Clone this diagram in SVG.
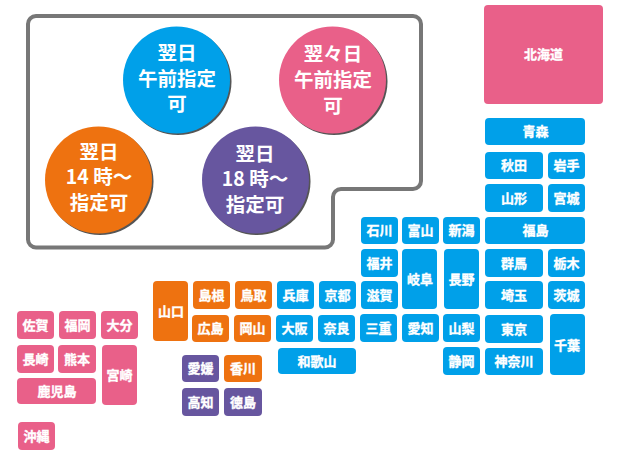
<svg xmlns="http://www.w3.org/2000/svg" width="620" height="455" viewBox="0 0 620 455">
<style>
.t{font-family:"Noto Sans CJK JP","Noto Sans",sans-serif;font-weight:700;fill:#fff;text-anchor:middle}
.s{font-size:13px;stroke:#fff;stroke-width:.35px}
.c{font-size:19.500px}
.b{fill:#00a0e9}.p{fill:#e96089}.o{fill:#ee7210}.v{fill:#67569f}
.sh{fill:#555}
</style>
<rect width="620" height="455" fill="#fff"/>
<path id="legend-frame" d="M36 16H413a8 8 0 0 1 8 8V181a8 8 0 0 1-8 8H341a8 8 0 0 0-8 8V239.500a8 8 0 0 1-8 8H36a8 8 0 0 1-8-8V24a8 8 0 0 1 8-8Z" fill="#fff" stroke="#777" stroke-width="4"/>
<g id="legend-blue"><circle class="sh" cx="178" cy="81.500" r="53.500"/><circle class="b" cx="176.500" cy="80" r="53.500"/><text class="t c"><tspan x="177" y="60">翌日</tspan><tspan x="177" y="86">午前指定</tspan><tspan x="177" y="111">可</tspan></text></g>
<g id="legend-pink"><circle class="sh" cx="334" cy="81.500" r="53.500"/><circle class="p" cx="332.500" cy="80" r="53.500"/><text class="t c"><tspan x="333" y="61">翌々日</tspan><tspan x="333" y="87">午前指定</tspan><tspan x="333" y="113">可</tspan></text></g>
<g id="legend-orange"><circle class="sh" cx="100" cy="181.500" r="53.500"/><circle class="o" cx="98.500" cy="180" r="53.500"/><text class="t c"><tspan x="99" y="159">翌日</tspan><tspan x="99" y="184">14 時～</tspan><tspan x="99" y="210">指定可</tspan></text></g>
<g id="legend-purple"><circle class="sh" cx="257" cy="181.500" r="53.500"/><circle class="v" cx="255.500" cy="180" r="53.500"/><text class="t c"><tspan x="255" y="161">翌日</tspan><tspan x="255" y="186">18 時～</tspan><tspan x="255" y="212">指定可</tspan></text></g>
<g id="hokkaido"><rect class="p" x="484" y="5" width="119" height="99" rx="4"/><text class="t s" x="543.500" y="59">北海道</text></g>
<g id="aomori"><rect class="b" x="485" y="118" width="100" height="27" rx="4"/><text class="t s" x="535.500" y="136">青森</text></g>
<g id="akita"><rect class="b" x="485" y="152" width="58" height="27" rx="4"/><text class="t s" x="514" y="170">秋田</text></g>
<g id="iwate"><rect class="b" x="548" y="152" width="37" height="27" rx="4"/><text class="t s" x="566.500" y="170">岩手</text></g>
<g id="yamagata"><rect class="b" x="485" y="184" width="58" height="28" rx="4"/><text class="t s" x="514" y="203">山形</text></g>
<g id="miyagi"><rect class="b" x="548" y="184" width="37" height="28" rx="4"/><text class="t s" x="566.500" y="203">宮城</text></g>
<g id="ishikawa"><rect class="b" x="361" y="217" width="37" height="27" rx="4"/><text class="t s" x="379.500" y="235">石川</text></g>
<g id="toyama"><rect class="b" x="402" y="217" width="37" height="27" rx="4"/><text class="t s" x="420.500" y="235">富山</text></g>
<g id="niigata"><rect class="b" x="443" y="217" width="37" height="27" rx="4"/><text class="t s" x="461.500" y="235">新潟</text></g>
<g id="fukushima"><rect class="b" x="485" y="217" width="100" height="27" rx="4"/><text class="t s" x="535.500" y="235">福島</text></g>
<g id="fukui"><rect class="b" x="361" y="249" width="37" height="28" rx="4"/><text class="t s" x="379.500" y="268">福井</text></g>
<g id="gifu"><rect class="b" x="402" y="249" width="35" height="60" rx="4"/><text class="t s" x="420" y="284">岐阜</text></g>
<g id="nagano"><rect class="b" x="444" y="249" width="35" height="60" rx="4"/><text class="t s" x="461.500" y="284">長野</text></g>
<g id="gunma"><rect class="b" x="485" y="249" width="58" height="28" rx="4"/><text class="t s" x="514" y="268">群馬</text></g>
<g id="tochigi"><rect class="b" x="548" y="249" width="37" height="28" rx="4"/><text class="t s" x="566.500" y="268">栃木</text></g>
<g id="shiga"><rect class="b" x="361" y="281" width="37" height="28" rx="4"/><text class="t s" x="379.500" y="300">滋賀</text></g>
<g id="saitama"><rect class="b" x="485" y="281" width="58" height="28" rx="4"/><text class="t s" x="514" y="300">埼玉</text></g>
<g id="ibaraki"><rect class="b" x="548" y="281" width="37" height="28" rx="4"/><text class="t s" x="566.500" y="300">茨城</text></g>
<g id="mie"><rect class="b" x="360" y="314" width="37" height="28" rx="4"/><text class="t s" x="378.500" y="333">三重</text></g>
<g id="aichi"><rect class="b" x="402" y="314" width="37" height="28" rx="4"/><text class="t s" x="420.500" y="333">愛知</text></g>
<g id="yamanashi"><rect class="b" x="443" y="314" width="37" height="28" rx="4"/><text class="t s" x="461.500" y="333">山梨</text></g>
<g id="tokyo"><rect class="b" x="485" y="315" width="58" height="28" rx="4"/><text class="t s" x="514" y="334">東京</text></g>
<g id="chiba"><rect class="b" x="550" y="314" width="35" height="61" rx="4"/><text class="t s" x="567" y="350">千葉</text></g>
<g id="shizuoka"><rect class="b" x="443" y="347" width="37" height="28" rx="4"/><text class="t s" x="461.500" y="366">静岡</text></g>
<g id="kanagawa"><rect class="b" x="485" y="348" width="58" height="27" rx="4"/><text class="t s" x="514" y="366">神奈川</text></g>
<g id="yamaguchi"><rect class="o" x="153" y="281" width="35" height="60" rx="4"/><text class="t s" x="171" y="316">山口</text></g>
<g id="shimane"><rect class="o" x="193" y="281" width="37" height="28" rx="4"/><text class="t s" x="211.500" y="300">島根</text></g>
<g id="tottori"><rect class="o" x="235" y="281" width="37" height="28" rx="4"/><text class="t s" x="253.500" y="300">鳥取</text></g>
<g id="hiroshima"><rect class="o" x="192" y="315" width="37" height="27" rx="4"/><text class="t s" x="210.500" y="333">広島</text></g>
<g id="okayama"><rect class="o" x="234" y="315" width="37" height="27" rx="4"/><text class="t s" x="252.500" y="333">岡山</text></g>
<g id="hyogo"><rect class="b" x="277" y="281" width="37" height="28" rx="4"/><text class="t s" x="295.500" y="300">兵庫</text></g>
<g id="kyoto"><rect class="b" x="319" y="281" width="37" height="28" rx="4"/><text class="t s" x="337.500" y="300">京都</text></g>
<g id="osaka"><rect class="b" x="276" y="315" width="37" height="27" rx="4"/><text class="t s" x="294.500" y="333">大阪</text></g>
<g id="nara"><rect class="b" x="318" y="315" width="37" height="27" rx="4"/><text class="t s" x="336.500" y="333">奈良</text></g>
<g id="wakayama"><rect class="b" x="278" y="348" width="78" height="26" rx="4"/><text class="t s" x="317" y="366">和歌山</text></g>
<g id="ehime"><rect class="v" x="182" y="355" width="37" height="27" rx="4"/><text class="t s" x="200.500" y="373">愛媛</text></g>
<g id="kagawa"><rect class="o" x="224" y="355" width="38" height="27" rx="4"/><text class="t s" x="243" y="373">香川</text></g>
<g id="kochi"><rect class="v" x="182" y="388" width="37" height="28" rx="4"/><text class="t s" x="200.500" y="407">高知</text></g>
<g id="tokushima"><rect class="v" x="224" y="388" width="38" height="28" rx="4"/><text class="t s" x="243" y="407">徳島</text></g>
<g id="saga"><rect class="p" x="17" y="311" width="37" height="28" rx="4"/><text class="t s" x="35.500" y="330">佐賀</text></g>
<g id="fukuoka"><rect class="p" x="59" y="311" width="37" height="28" rx="4"/><text class="t s" x="77.500" y="330">福岡</text></g>
<g id="oita"><rect class="p" x="101" y="311" width="37" height="28" rx="4"/><text class="t s" x="119.500" y="330">大分</text></g>
<g id="nagasaki"><rect class="p" x="17" y="345" width="37" height="28" rx="4"/><text class="t s" x="35.500" y="364">長崎</text></g>
<g id="kumamoto"><rect class="p" x="58" y="345" width="38" height="28" rx="4"/><text class="t s" x="77" y="364">熊本</text></g>
<g id="miyazaki"><rect class="p" x="102" y="345" width="35" height="60" rx="4"/><text class="t s" x="119.500" y="380">宮崎</text></g>
<g id="kagoshima"><rect class="p" x="17" y="378" width="79" height="26" rx="4"/><text class="t s" x="57" y="396">鹿児島</text></g>
<g id="okinawa"><rect class="p" x="18" y="422" width="37" height="28" rx="4"/><text class="t s" x="36.500" y="441">沖縄</text></g>
</svg>
